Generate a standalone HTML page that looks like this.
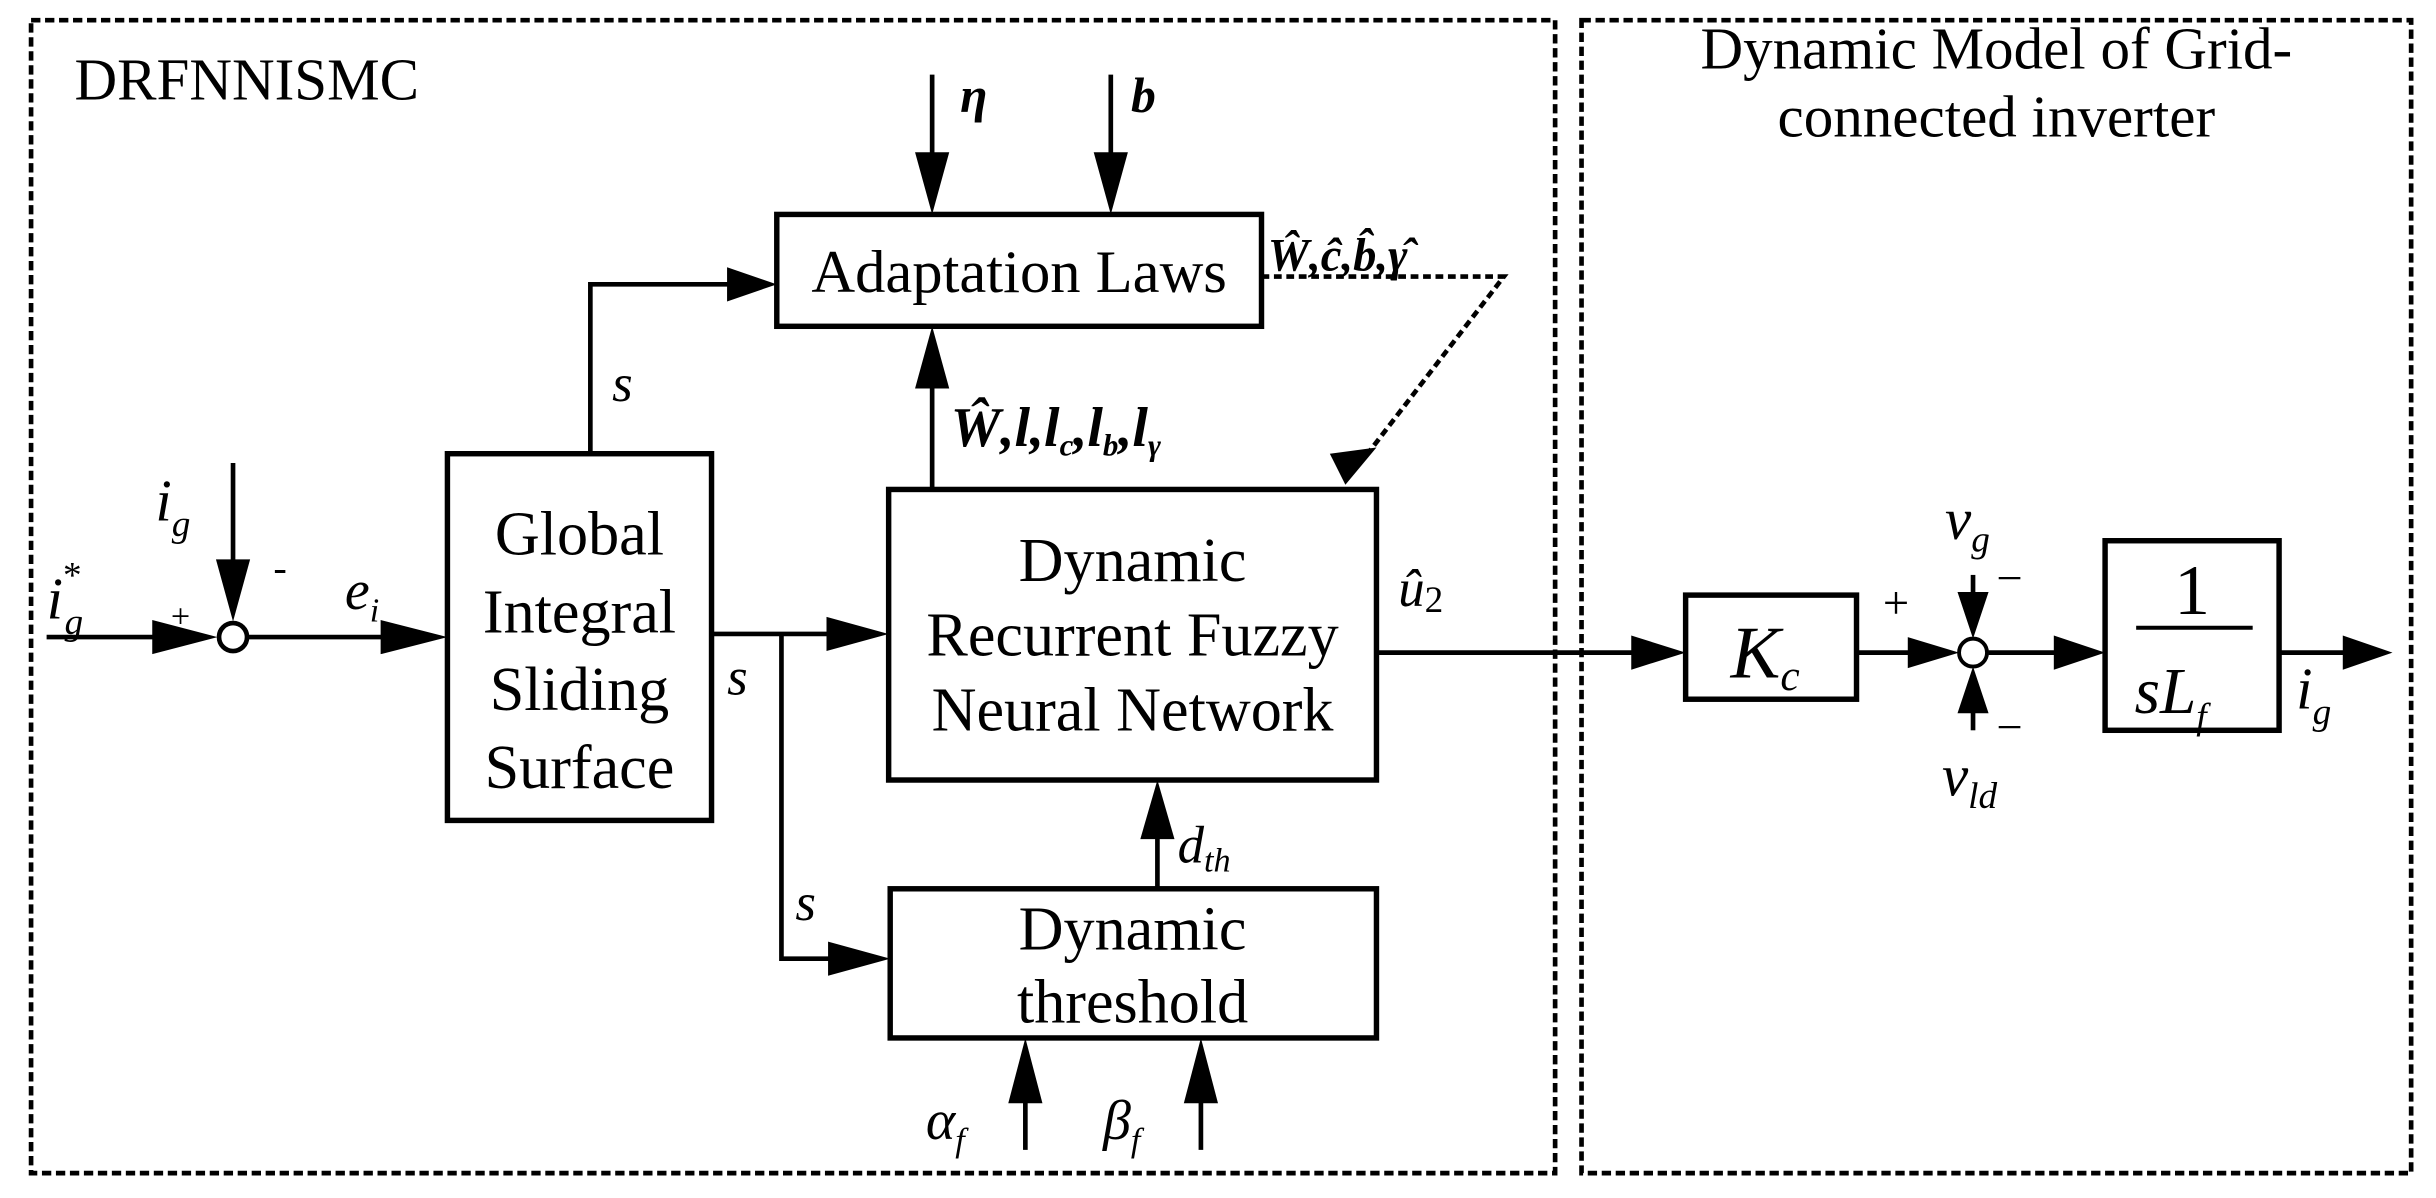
<!DOCTYPE html>
<html><head><meta charset="utf-8"><style>
html,body{margin:0;padding:0;background:#fff;}
svg{display:block;}
text{font-family:"Liberation Serif",serif;fill:#000;}
.it{font-style:italic;}
.bi{font-style:italic;font-weight:bold;}
</style></head><body>
<svg width="2436" height="1198" viewBox="0 0 1568 771" preserveAspectRatio="none">
<g fill="none" stroke="#000">
<rect x="20" y="13" width="981" height="742" stroke-width="3" stroke-dasharray="6,3"/>
<rect x="1018" y="13" width="534" height="742" stroke-width="3" stroke-dasharray="6,3"/>
<g stroke-width="3.5">
<rect x="500" y="138" width="312" height="72"/>
<rect x="288" y="292" width="170" height="236"/>
<rect x="572" y="315" width="314" height="187"/>
<rect x="573" y="572" width="313" height="96"/>
<rect x="1085" y="383" width="110" height="67"/>
<rect x="1355" y="348" width="112" height="122"/>
</g>
<g stroke-width="3">
<line x1="600" y1="48" x2="600" y2="110"/>
<line x1="715" y1="48" x2="715" y2="110"/>
<polyline points="380,292 380,183 475,183"/>
<line x1="600" y1="315" x2="600" y2="245"/>
<line x1="30" y1="410" x2="105" y2="410"/>
<line x1="150" y1="298" x2="150" y2="370"/>
<line x1="160" y1="410" x2="250" y2="410"/>
<line x1="458" y1="408" x2="540" y2="408"/>
<polyline points="503,408 503,617 540,617"/>
<line x1="745" y1="572" x2="745" y2="535"/>
<line x1="660" y1="740" x2="660" y2="700"/>
<line x1="773" y1="740" x2="773" y2="700"/>
<line x1="886" y1="420" x2="1055" y2="420"/>
<line x1="1195" y1="420" x2="1235" y2="420"/>
<line x1="1270" y1="370" x2="1270" y2="385"/>
<line x1="1270" y1="470" x2="1270" y2="455"/>
<line x1="1280" y1="420" x2="1328" y2="420"/>
<line x1="1467" y1="420" x2="1512" y2="420"/>
<line x1="1375" y1="404" x2="1450" y2="404" stroke-width="2.5"/>
</g>
<circle cx="150" cy="410" r="9" stroke-width="3" fill="#fff"/>
<circle cx="1270" cy="420" r="9" stroke-width="2.5" fill="#fff"/>
<g stroke-width="3" stroke-dasharray="5,3">
<polyline points="812,178 968,178 878,295"/>
</g>
</g>
<g fill="#000">
<polygon points="589,98 611,98 600,138"/>
<polygon points="704,98 726,98 715,138"/>
<polygon points="468,172 468,194 500,183"/>
<polygon points="589,250 611,250 600,210"/>
<polygon points="98,399 98,421 140,410"/>
<polygon points="139,360 161,360 150,400"/>
<polygon points="245,399 245,421 288,410"/>
<polygon points="532,397 532,419 572,408"/>
<polygon points="533,606 533,628 573,617"/>
<polygon points="734,540 756,540 745,502"/>
<polygon points="649,710 671,710 660,668"/>
<polygon points="762,710 784,710 773,668"/>
<polygon points="1050,409 1050,431 1085,420"/>
<polygon points="1228,410 1228,430 1261,420"/>
<polygon points="1260,381 1280,381 1270,411"/>
<polygon points="1260,459 1280,459 1270,429"/>
<polygon points="1322,409 1322,431 1355,420"/>
<polygon points="1508,409 1508,431 1540,420"/>
<polygon points="866,312 856,292 886,288"/>
</g>
<text x="48" y="64" font-size="38">DRFNNISMC</text>
<text x="1285" y="44" font-size="38" text-anchor="middle">Dynamic Model of Grid-</text>
<text x="1285" y="88" font-size="38" text-anchor="middle">connected inverter</text>
<text x="618" y="72" font-size="32" class="bi">η</text>
<text x="728" y="72" font-size="32" class="bi">b</text>
<text x="656" y="188" font-size="39" text-anchor="middle">Adaptation Laws</text>
<text x="816" y="174" font-size="30" class="bi">Ŵ,ĉ,b̂,γ̂</text>
<text x="394" y="258" font-size="34" class="it">s</text>
<text x="612" y="287" font-size="36" class="bi">Ŵ,<tspan>l</tspan>,l<tspan font-size="20" dy="6">c</tspan><tspan dy="-6">,l</tspan><tspan font-size="20" dy="6">b</tspan><tspan dy="-6">,l</tspan><tspan font-size="20" dy="6">γ</tspan></text>
<g font-size="40" text-anchor="middle">
<text x="729" y="374">Dynamic</text>
<text x="729" y="422">Recurrent Fuzzy</text>
<text x="729" y="470">Neural Network</text>
<text x="373" y="357">Global</text>
<text x="373" y="407">Integral</text>
<text x="373" y="457">Sliding</text>
<text x="373" y="507">Surface</text>
<text x="729" y="611">Dynamic</text>
<text x="729" y="658">threshold</text>
</g>
<text x="900" y="390" font-size="34" class="it">û<tspan font-size="24" dy="4" font-style="normal">2</tspan></text>
<text x="30" y="398" font-size="38" class="it">i<tspan font-size="24" dy="-20" font-style="normal">*</tspan><tspan font-size="24" dx="-11" dy="30">g</tspan></text>
<text x="100" y="335" font-size="38" class="it">i<tspan font-size="24" dy="10">g</tspan></text>
<text x="110" y="404" font-size="22">+</text>
<text x="176" y="374" font-size="26">-</text>
<text x="222" y="392" font-size="36" class="it">e<tspan font-size="22" dy="8">i</tspan></text>
<text x="468" y="447" font-size="34" class="it">s</text>
<text x="512" y="592" font-size="34" class="it">s</text>
<text x="758" y="555" font-size="34" class="it">d<tspan font-size="22" dy="6">th</tspan></text>
<text x="596" y="733" font-size="36" class="it">α<tspan font-size="22" dy="8">f</tspan></text>
<text x="710" y="733" font-size="36" class="it">β<tspan font-size="22" dy="8">f</tspan></text>
<text x="1114" y="436" font-size="48" class="it">K<tspan font-size="28" dy="8">c</tspan></text>
<text x="1252" y="347" font-size="38" class="it">v<tspan font-size="24" dy="8">g</tspan></text>
<text x="1250" y="512" font-size="38" class="it">v<tspan font-size="24" dy="8">ld</tspan></text>
<text x="1212" y="398" font-size="30">+</text>
<text x="1285" y="382" font-size="30">−</text>
<text x="1285" y="478" font-size="30">−</text>
<text x="1411" y="395" font-size="46" text-anchor="middle">1</text>
<text x="1374" y="459" font-size="42" class="it">sL<tspan font-size="24" dy="10">f</tspan></text>
<text x="1478" y="456" font-size="38" class="it">i<tspan font-size="24" dy="10">g</tspan></text>
</svg>
</body></html>
